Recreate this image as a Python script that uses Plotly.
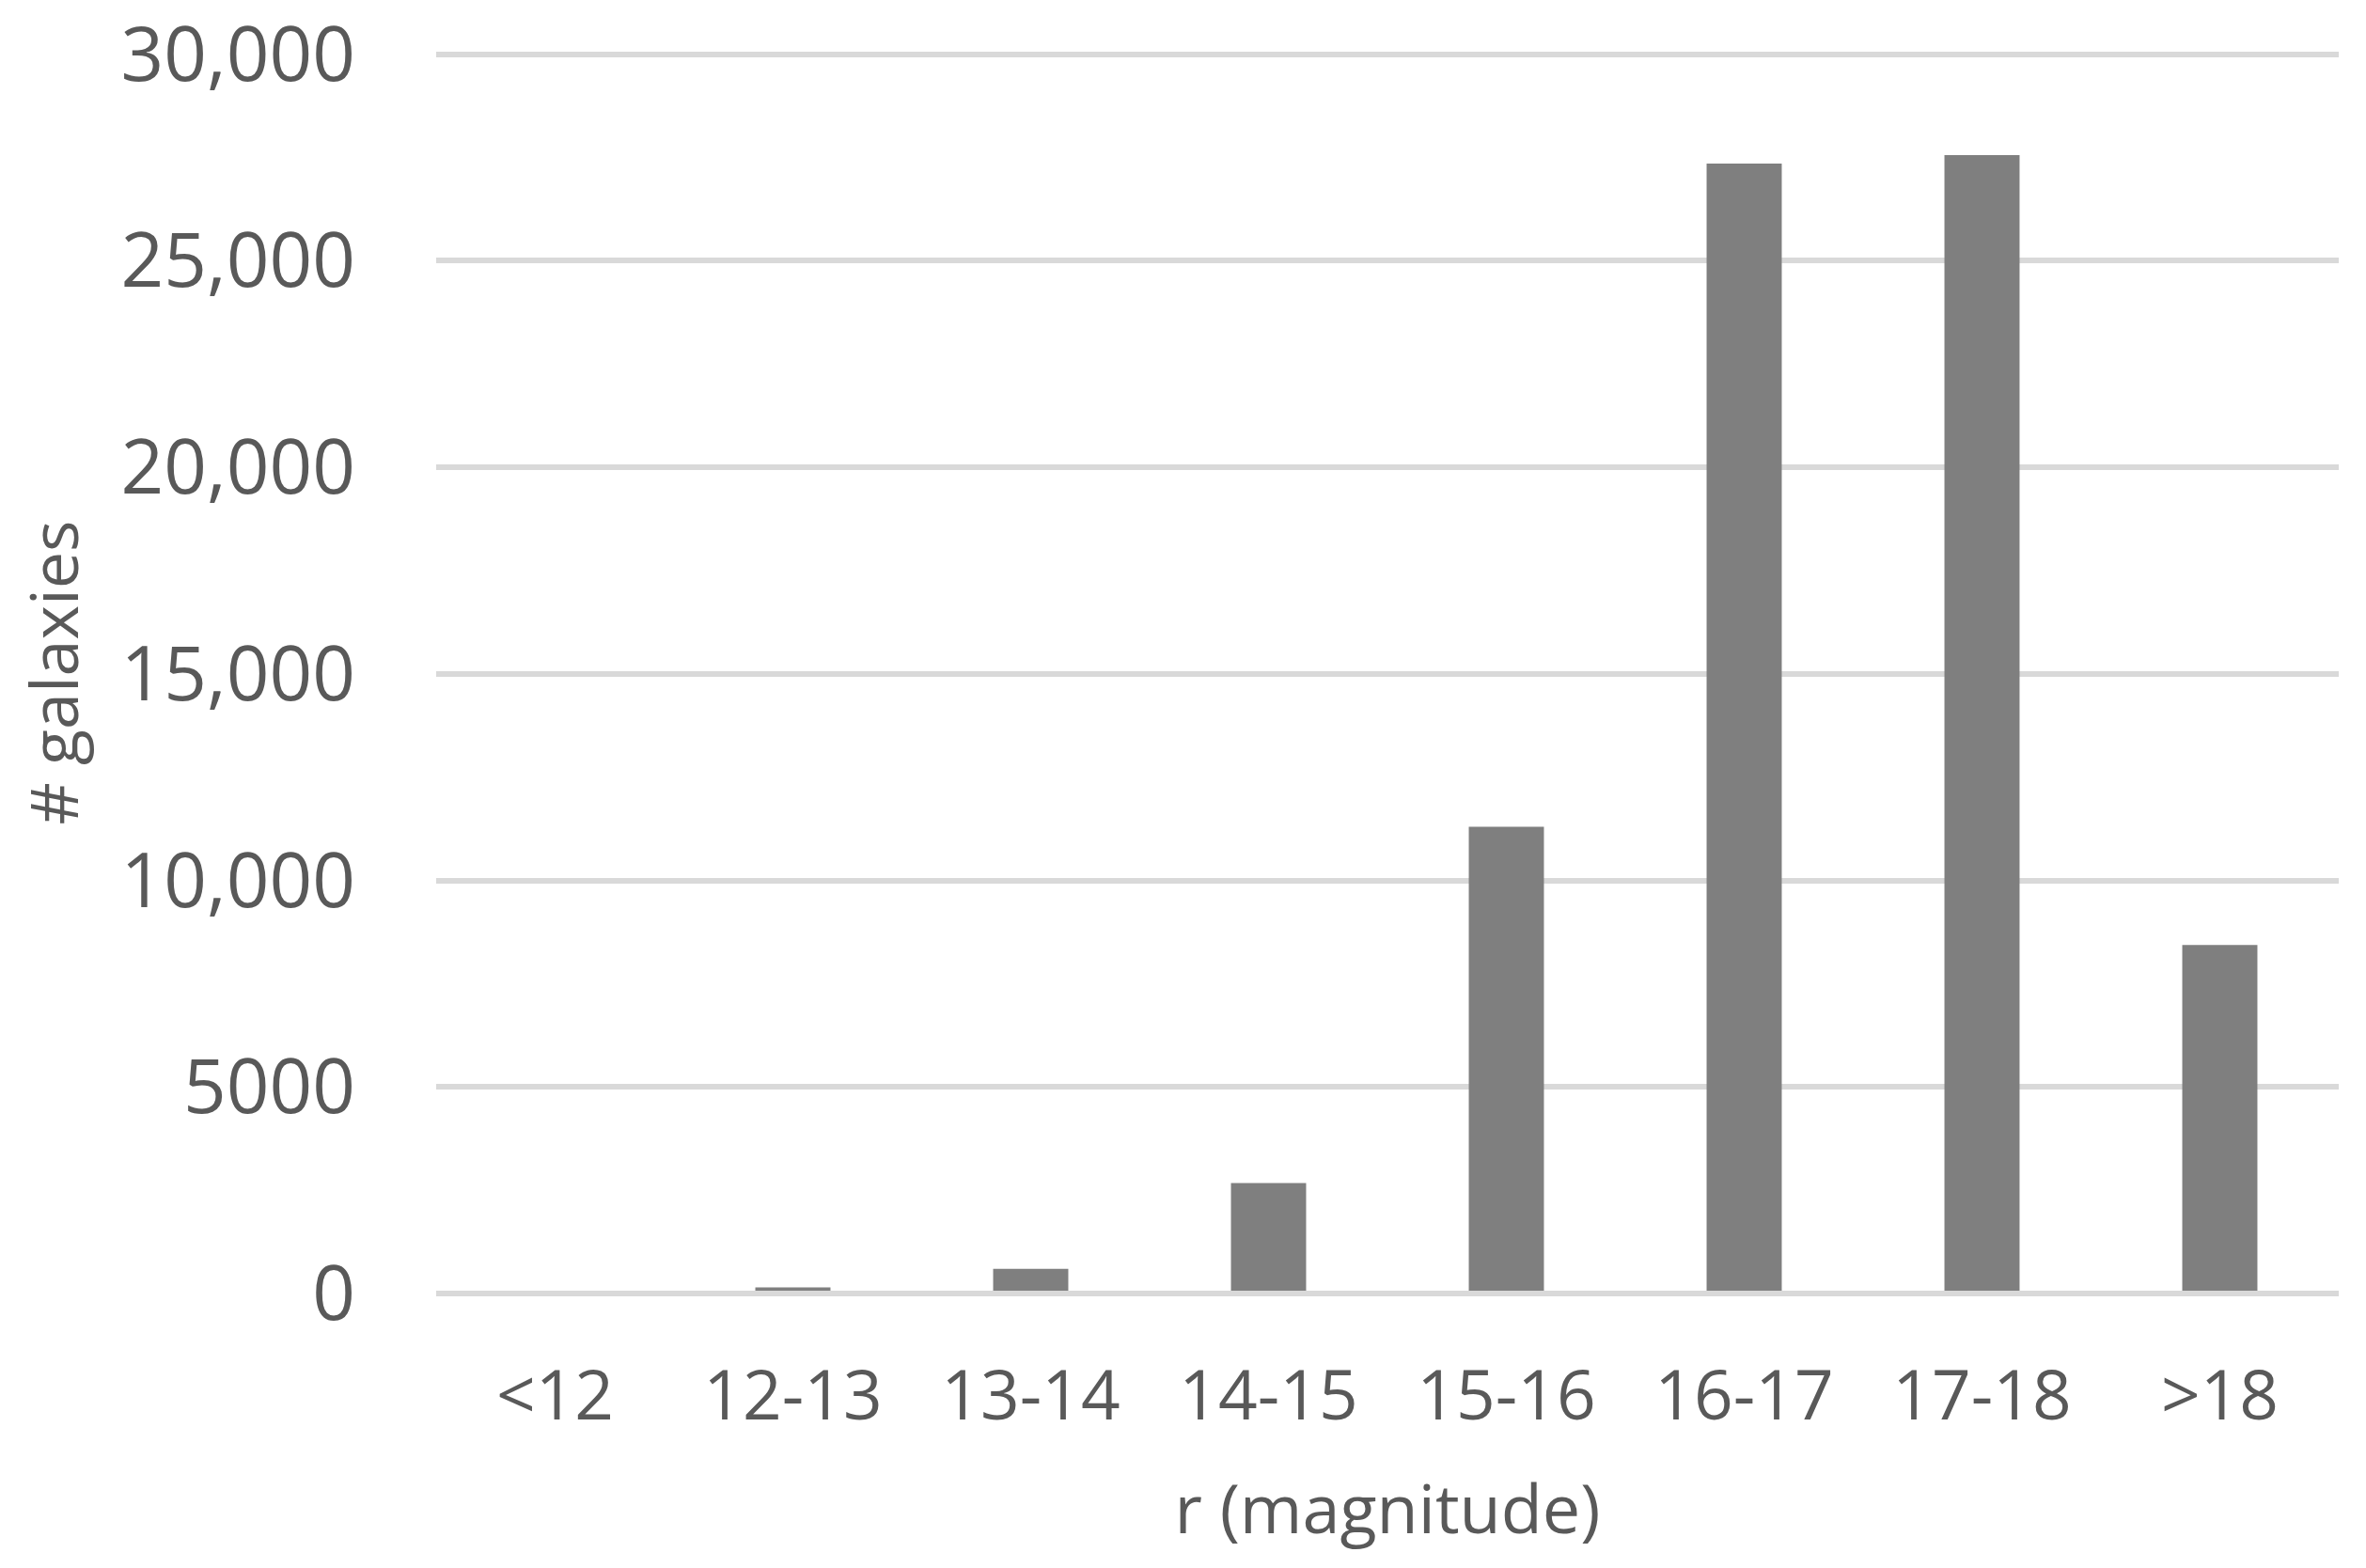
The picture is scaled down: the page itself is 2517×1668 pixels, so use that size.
# galaxy magnitude histogram (Excel-style bar chart)

import plotly.graph_objects as go

magnitude_bins = ['<12', '12-13', '13-14', '14-15', '15-16', '16-17', '17-18', '>18']
galaxy_counts = [20, 150, 600, 2675, 11300, 27350, 27555, 8435]

y_tick_vals = [0, 5000, 10000, 15000, 20000, 25000, 30000]
y_tick_text = ['0', '5000', '10,000', '15,000', '20,000', '25,000', '30,000']

text_color = '#595959'
grid_color = '#d9d9d9'
bar_color = '#7f7f7f'

fig = go.Figure(
    go.Bar(x=magnitude_bins, y=galaxy_counts, marker_color=bar_color, marker_line_width=0)
)

# page body adds 8px around the figure, so size it a little under the window
fig.update_layout(
    width=2509, height=1652,
    margin=dict(l=456, r=29, t=47, b=284),
    paper_bgcolor='white', plot_bgcolor='white',
    bargap=0.684,
    showlegend=False,
    font=dict(family='Open Sans', color=text_color),
)

fig.update_xaxes(
    automargin=False,
    showgrid=False, showline=False, zeroline=False,
    ticks='', ticklabelstandoff=60,
    tickfont=dict(size=73, color=text_color),
    title=dict(text='r (magnitude)', font=dict(size=72, color=text_color), standoff=50),
)

fig.update_yaxes(
    automargin=False,
    range=[0, 30060],
    tickvals=y_tick_vals, ticktext=y_tick_text,
    ticklabeloverflow='allow',
    showgrid=True, gridcolor=grid_color, gridwidth=6,
    zeroline=True, zerolinecolor=grid_color, zerolinewidth=6,
    showline=False, ticks='', ticklabelstandoff=85,
    tickfont=dict(size=80, color=text_color),
    title=dict(text='# galaxies', font=dict(size=70, color=text_color), standoff=40),
)

# the horizontal axis line sits over the bars in the original
try:
    fig.update_yaxes(zerolinelayer='above traces')
except ValueError:
    pass

fig.write_html("out.html")
